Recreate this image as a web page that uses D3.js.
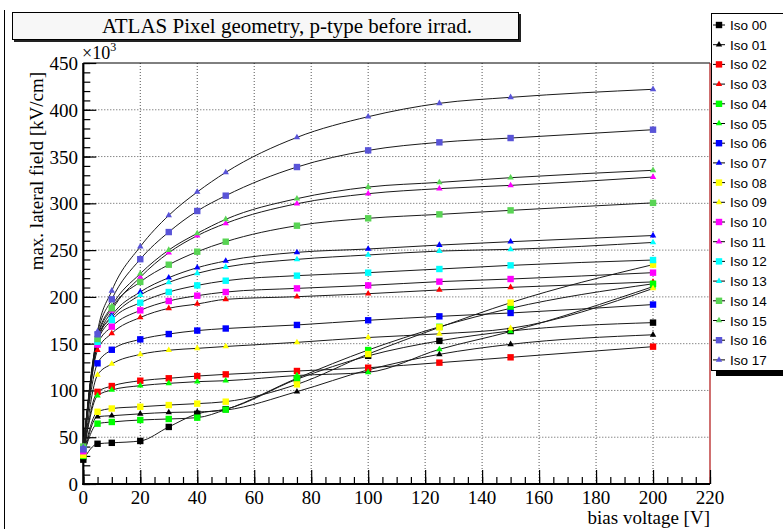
<!DOCTYPE html>
<html><head><meta charset="utf-8">
<script src="https://cdn.jsdelivr.net/npm/d3@7"></script>
<style>body{margin:0;background:#fff}svg{display:block}</style>
</head><body>
<svg id="c" width="783" height="529"></svg>
<script>
const voltages = [0, 5, 10, 20, 30, 40, 50, 75, 100, 125, 150, 200];
const seriesNames = ["Iso 00","Iso 01","Iso 02","Iso 03","Iso 04","Iso 05","Iso 06","Iso 07","Iso 08","Iso 09","Iso 10","Iso 11","Iso 12","Iso 13","Iso 14","Iso 15","Iso 16","Iso 17"];
const iso00 = [26, 43, 44, 46, 61, 75, 80, 112, 137, 153, 163.5, 172.5];
const iso01 = [28, 72, 73, 75, 76.5, 77, 79, 98.7, 122, 138.6, 149.3, 159.5];
const iso02 = [33, 98.5, 104.7, 110.4, 113, 115.4, 117.2, 120.8, 124.3, 129.7, 135.4, 146.8];
const iso03 = [35, 143, 161, 178, 187.8, 192.4, 197.4, 200.2, 203.4, 207.4, 210.2, 216];
const iso04 = [30, 64.5, 66.3, 68.4, 69.5, 70.9, 79.5, 113, 143.2, 168, 187.8, 214];
const iso05 = [32, 94.4, 100.5, 105.1, 107.6, 109.4, 110.4, 116, 119.4, 143.9, 163, 211];
const iso06 = [37, 129, 143.5, 154.6, 160.3, 164, 166.2, 170, 175, 179.2, 182.8, 191.8];
const iso07 = [36, 153, 180, 205.3, 220.5, 231.2, 238.4, 247.6, 251.2, 255.4, 259, 265.6];
const iso08 = [31, 77.2, 80.7, 82.6, 84.4, 85.9, 88, 106.5, 138.9, 167.4, 193.8, 234.5];
const iso09 = [30, 116.5, 128.3, 138.5, 143, 145, 147, 151.4, 156.6, 160.5, 166.4, 209];
const iso10 = [35, 149, 168.2, 185.6, 195.6, 201.3, 205.2, 209.1, 212.3, 216.3, 219.1, 225.9];
const iso11 = [37, 151, 185, 221, 247.2, 265.4, 278.6, 299.6, 310.3, 315.7, 319.2, 328.1];
const iso12 = [38, 152, 175.3, 193.8, 205.2, 212.3, 217.3, 222.7, 225.9, 229.8, 233.7, 239.4];
const iso13 = [38, 156, 178, 202, 215.5, 225.2, 231.9, 240.1, 244.8, 249, 250.8, 258.2];
const iso14 = [40, 155, 187.8, 216, 234.4, 248.3, 259, 276.1, 284, 288.2, 292.5, 300.5];
const iso15 = [40, 157, 190, 224.8, 250.1, 267.9, 282.9, 305, 317.4, 322.4, 327.4, 335.3];
const iso16 = [37, 160, 197.4, 240.3, 269.3, 291.8, 308.2, 338.8, 356.6, 365.2, 369.8, 378.7];
const iso17 = [39, 163, 206.5, 253.7, 287.1, 312.1, 333.1, 370.5, 392.6, 406.9, 413.3, 421.9];
const seriesValues = [iso00, iso01, iso02, iso03, iso04, iso05, iso06, iso07, iso08, iso09, iso10, iso11, iso12, iso13, iso14, iso15, iso16, iso17];
const xTicks = [0, 20, 40, 60, 80, 100, 120, 140, 160, 180, 200, 220];
const yTicks = [0, 50, 100, 150, 200, 250, 300, 350, 400, 450];
const title = "ATLAS Pixel geometry, p-type before irrad.";
const xTitle = "bias voltage [V]";
const yTitle = "max. lateral field [kV/cm]";

const rootColors = ["#000000", "#000000", "#ff0000", "#ff0000", "#00ff00", "#00ff00", "#0000ff", "#0000ff", "#ffff00", "#ffff00", "#ff00ff", "#ff00ff", "#00ffff", "#00ffff", "#59d454", "#59d454", "#5954d8", "#5954d8"];

const svg = d3.select("#c");
const L = 83.3, R = 710, T = 63, B = 484;
const x = d3.scaleLinear().domain([0, 220]).range([L, R]);
const y = d3.scaleLinear().domain([0, 450]).range([B, T]);
const serif = "'Liberation Serif','Times New Roman',serif";
const sans = "'Liberation Sans',Arial,sans-serif";

// pad border
svg.append("line").attr("x1", 4.5).attr("x2", 4.5).attr("y1", 10).attr("y2", 529).attr("stroke", "#000").attr("stroke-width", 1);

// grid
const g = svg.append("g");
g.selectAll(".gx").data(xTicks.filter(d => d > 0 && d < 220)).enter().append("line")
  .attr("x1", d => x(d)).attr("x2", d => x(d)).attr("y1", T).attr("y2", B)
  .attr("stroke", "#555").attr("stroke-dasharray", "1,2").attr("stroke-width", 1);
g.selectAll(".gy").data(yTicks.filter(d => d > 0 && d < 450)).enter().append("line")
  .attr("x1", L).attr("x2", R).attr("y1", d => y(d)).attr("y2", d => y(d))
  .attr("stroke", "#555").attr("stroke-dasharray", "1,2").attr("stroke-width", 1);

// frame top & right
svg.append("line").attr("x1", L).attr("x2", R).attr("y1", T).attr("y2", T).attr("stroke", "#000");
svg.append("line").attr("x1", R).attr("x2", R).attr("y1", T).attr("y2", B).attr("stroke", "#b01010").attr("stroke-width", 1.2);

// axes (ticks inside)
const xAxisMinor = d3.axisTop(x).tickValues(d3.range(0, 221, 5)).tickSize(7).tickFormat("");
const xAxisMajor = d3.axisTop(x).tickValues(xTicks).tickSize(14).tickFormat("");
const yAxisMinor = d3.axisRight(y).tickValues(d3.range(0, 451, 10)).tickSize(7).tickFormat("");
const yAxisMajor = d3.axisRight(y).tickValues(yTicks).tickSize(13).tickFormat("");
[xAxisMinor, xAxisMajor].forEach(a => {
  const ax = svg.append("g").attr("transform", `translate(0,${B})`).call(a);
  ax.select(".domain").remove();
  ax.selectAll("line").attr("stroke", "#000").attr("stroke-width", 1.2);
});
[yAxisMinor, yAxisMajor].forEach(a => {
  const ax = svg.append("g").attr("transform", `translate(${L},0)`).call(a);
  ax.select(".domain").remove();
  ax.selectAll("line").attr("stroke", "#000").attr("stroke-width", 1.2);
});
svg.append("line").attr("x1", L - 1).attr("x2", R).attr("y1", B).attr("y2", B).attr("stroke", "#000").attr("stroke-width", 2.2);
svg.append("line").attr("x1", L).attr("x2", L).attr("y1", T).attr("y2", B + 1).attr("stroke", "#000").attr("stroke-width", 2.2);

// tick labels
svg.selectAll(".xl").data(xTicks).enter().append("text")
  .attr("x", d => x(d)).attr("y", 504).attr("text-anchor", "middle")
  .attr("font-family", serif).attr("font-size", 19).text(d => d);
svg.selectAll(".yl").data(yTicks).enter().append("text")
  .attr("x", 78).attr("y", d => y(d) + 7).attr("text-anchor", "end")
  .attr("font-family", serif).attr("font-size", 19).text(d => d);
const mult = svg.append("text").attr("x", 82).attr("y", 59).attr("font-family", serif).attr("font-size", 18);
mult.append("tspan").text("\u00d710");
mult.append("tspan").attr("dy", -8).attr("font-size", 12).text("3");

// axis titles
svg.append("text").attr("x", 710).attr("y", 524).attr("text-anchor", "end")
  .attr("font-family", serif).attr("font-size", 19).text(xTitle);
svg.append("text").attr("transform", "translate(43,72) rotate(-90)").attr("text-anchor", "end")
  .attr("font-family", serif).attr("font-size", 19).text(yTitle);

// curves
const line = d3.line().x((d, i) => x(voltages[i])).y(d => y(d)).curve(d3.curveMonotoneX);
const plot = svg.append("g");
seriesValues.forEach((vals, k) => {
  plot.append("path").attr("d", line(vals)).attr("fill", "none").attr("stroke", "#1a1a1a").attr("stroke-width", 1);
});
const tri = d3.symbol().type(d3.symbolTriangle).size(18);
function drawMarker(sel, k, cx, cy) {
  if (k % 2 === 0) {
    sel.append("rect").attr("x", cx - 3.2).attr("y", cy - 3.2).attr("width", 6.4).attr("height", 6.4).attr("fill", rootColors[k]);
  } else {
    sel.append("path").attr("d", tri()).attr("transform", `translate(${cx},${cy})`).attr("fill", rootColors[k]);
  }
}
seriesValues.forEach((vals, k) => {
  const mg = plot.append("g");
  vals.forEach((v, i) => drawMarker(mg, k, x(voltages[i]), y(v)));
});

// title box
svg.append("rect").attr("x", 14).attr("y", 14).attr("width", 507).attr("height", 28).attr("fill", "#222");
svg.append("rect").attr("x", 12.5).attr("y", 12.5).attr("width", 506).attr("height", 27).attr("fill", "#f7f7f7").attr("stroke", "#000");
svg.append("text").attr("x", 287).attr("y", 33).attr("text-anchor", "middle")
  .attr("font-family", serif).attr("font-size", 21).text(title);

// legend
const lg = svg.append("g");
lg.append("rect").attr("x", 716).attr("y", 16).attr("width", 70).attr("height", 360).attr("fill", "#000");
lg.append("rect").attr("x", 711.5).attr("y", 13.5).attr("width", 72).attr("height", 357).attr("fill", "#fff").attr("stroke", "#000");
seriesNames.forEach((name, k) => {
  const cy = 25 + k * 19.7;
  lg.append("line").attr("x1", 713).attr("x2", 725).attr("y1", cy).attr("y2", cy).attr("stroke", "#000");
  drawMarker(lg, k, 719, cy);
  lg.append("text").attr("x", 730).attr("y", cy + 5).attr("font-family", sans).attr("font-size", 13.5).text(name);
});
</script>
</body></html>
